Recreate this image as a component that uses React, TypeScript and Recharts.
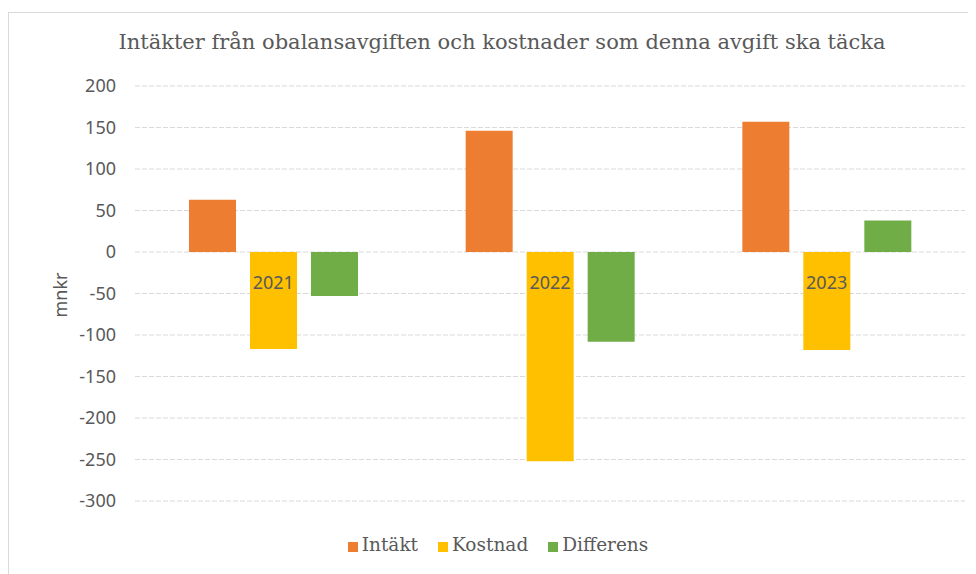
import React from 'react'
import {
  BarChart,
  Bar,
  XAxis,
  YAxis,
  CartesianGrid,
  Legend
} from 'recharts'

// data (mnkr)
const years = ['2021', '2022', '2023']
const intakt = [63, 146, 157]
const kostnad = [-117, -252, -118]
const differens = [-53, -108, 38]
const yTicks = [200, 150, 100, 50, 0, -50, -100, -150, -200, -250, -300]

const Y_MIN = -300
const Y_MAX = 200
const PLOT_H = 415

const TEXT = '#595959'
const SANS = '"Noto Sans", sans-serif'
const SERIF = '"DejaVu Serif", serif'

const chartData = years.map((year, i) => ({
  year,
  intakt: intakt[i],
  kostnad: kostnad[i],
  differens: differens[i]
}))

// Excel draws the category labels next to the zero line, not under the plot
const zeroFromBottom = (PLOT_H * (0 - Y_MIN)) / (Y_MAX - Y_MIN)

const YearTick = (props: any) => {
  const { x, y, payload } = props
  return (
    <text
      x={x}
      y={y - zeroFromBottom + 28}
      textAnchor="middle"
      dominantBaseline="central"
      fill={TEXT}
      fontFamily={SANS}
      fontSize={18}
    >
      {payload.value}
    </text>
  )
}

const seriesOrder = ['intakt', 'kostnad', 'differens']
const legendNames: Record<string, string> = {
  intakt: 'Intäkt',
  kostnad: 'Kostnad',
  differens: 'Differens'
}

export default function App() {
  return (
    <div style={{ position: 'relative', width: 960, height: 566, overflow: 'hidden' }}>
      <div
        style={{
          position: 'absolute',
          left: 0,
          top: 4,
          width: 1000,
          height: 600,
          borderLeft: '1px solid #d9d9d9',
          borderTop: '1px solid #d9d9d9'
        }}
      />
      <div
        style={{
          position: 'absolute',
          top: 22,
          left: 0,
          width: 988,
          textAlign: 'center',
          fontFamily: SERIF,
          fontSize: 21,
          color: TEXT,
          whiteSpace: 'nowrap'
        }}
      >
        Intäkter från obalansavgiften och kostnader som denna avgift ska täcka
      </div>
      <BarChart
        width={960}
        height={566}
        data={chartData}
        margin={{ top: 78, right: 3, left: 47, bottom: 22 }}
        barSize={47}
        barGap={14}
      >
        <CartesianGrid vertical={false} stroke="#d9d9d9" strokeDasharray="5 2" />
        <YAxis
          width={80}
          domain={[Y_MIN, Y_MAX]}
          ticks={yTicks}
          interval={0}
          axisLine={false}
          tickLine={false}
          tickSize={0}
          tickMargin={19}
          tick={{ fill: TEXT, fontFamily: SANS, fontSize: 18 }}
          label={{
            content: () => (
              <text
                x={52}
                y={287}
                transform="rotate(-90 52 287)"
                textAnchor="middle"
                dominantBaseline="central"
                fill={TEXT}
                fontFamily={SANS}
                fontSize={18}
              >
                mnkr
              </text>
            )
          }}
        />
        <Legend
          iconType="square"
          iconSize={10}
          itemSorter={(item: any) => seriesOrder.indexOf(item.dataKey)}
          formatter={(value: string) => (
            <span style={{ color: TEXT, fontFamily: SERIF, fontSize: 18.5, paddingRight: 10 }}>
              {legendNames[value] || value}
            </span>
          )}
          wrapperStyle={{ top: 526, left: 0, width: 1000 }}
        />
        <Bar dataKey="intakt" fill="#ED7D31" isAnimationActive={false} />
        <Bar dataKey="kostnad" fill="#FFC000" isAnimationActive={false} />
        <Bar dataKey="differens" fill="#70AD47" isAnimationActive={false} />
        <XAxis
          dataKey="year"
          axisLine={false}
          tickLine={false}
          tickSize={0}
          height={30}
          tick={(p: any) => <YearTick {...p} />}
          interval={0}
          zIndex={1000}
        />
      </BarChart>
    </div>
  )
}
